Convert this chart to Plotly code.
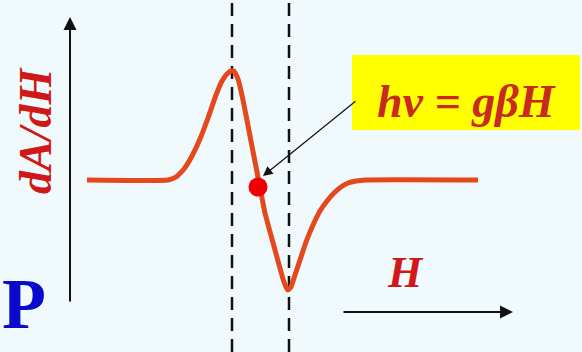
import plotly.graph_objects as go

# EPR first-derivative absorption line: field position vs dA/dH (baseline = 0)
field = [87, 168, 176, 184, 192, 200, 208, 216, 222, 227, 231, 234, 238, 243,
         250, 257, 265, 275, 283, 286, 288, 291, 295, 300, 306, 313, 320, 327,
         334, 341, 348, 356, 366, 478]
deriv = [0, 0, 3, 11, 24, 41, 62, 85, 99, 106, 109, 109, 101, 80,
         44, 8, -33, -70, -99, -107, -110, -107, -95, -80, -62, -45, -31, -21,
         -13, -7, -3, -1, 0, 0]

# positions of the derivative maximum and minimum (dashed markers)
extrema_field = [232, 289]

# resonance point where hv = g*beta*H (zero crossing)
resonance_field = [258]
resonance_deriv = [-7]

W, H = 582, 352
X_RANGE = [0, 582]
Y_RANGE = [-172, 180]

CURVE = "#e4481c"
RED_TXT = "#d01818"
BG = "#f0fafc"

fig = go.Figure()

for xv in extrema_field:
    fig.add_trace(go.Scatter(
        x=[xv, xv], y=Y_RANGE, mode="lines",
        line=dict(color="#111111", width=2.5, dash="13px,8px"),
        hoverinfo="skip", showlegend=False))

fig.add_trace(go.Scatter(
    x=field, y=deriv, mode="lines",
    line=dict(color=CURVE, width=5, shape="spline", smoothing=0.4),
    showlegend=False))

fig.add_trace(go.Scatter(
    x=resonance_field, y=resonance_deriv, mode="markers",
    marker=dict(color="#f00000", size=19, line=dict(width=0)),
    showlegend=False))

# axis arrows
fig.add_annotation(x=70, y=163, ax=70, ay=-123, xref="x", yref="y",
                   axref="x", ayref="y", text="", showarrow=True,
                   arrowhead=2, arrowsize=1.3, arrowwidth=2, arrowcolor="#111111")
fig.add_annotation(x=513, y=-132, ax=342, ay=-132, xref="x", yref="y",
                   axref="x", ayref="y", text="", showarrow=True,
                   arrowhead=2, arrowsize=1.3, arrowwidth=2, arrowcolor="#111111")

# yellow label box with pointer to the resonance point
fig.add_shape(type="rect", x0=352, x1=580, y0=50, y1=125, xref="x", yref="y",
              fillcolor="#ffff00", line=dict(width=0), layer="below")
fig.add_annotation(x=466, y=79, xref="x", yref="y", showarrow=False,
                   text="<b><i>hν = gβH</i></b>",
                   font=dict(family="Liberation Serif", size=46, color="#c82a1e"))
fig.add_annotation(x=263, y=4, ax=357, ay=80, xref="x", yref="y",
                   axref="x", ayref="y", text="", showarrow=True,
                   arrowhead=2, arrowsize=1.6, arrowwidth=1.2, arrowcolor="#111111")

# axis labels
fig.add_annotation(x=35, y=49, xref="x", yref="y", showarrow=False,
                   text="<b><i>dA/dH</i></b>", textangle=-90,
                   font=dict(family="Liberation Serif", size=46, color=RED_TXT))
fig.add_annotation(x=405, y=-92, xref="x", yref="y", showarrow=False,
                   text="<b><i>H</i></b>",
                   font=dict(family="Liberation Serif", size=44, color=RED_TXT))
fig.add_annotation(x=0, y=-124, xref="x", yref="y", showarrow=False,
                   xanchor="left", text="<b>P</b>",
                   font=dict(family="Liberation Serif", size=72, color="#0a0acc"))

fig.update_layout(
    width=W, height=H, margin=dict(l=0, r=0, t=0, b=0),
    paper_bgcolor=BG, plot_bgcolor=BG,
    xaxis=dict(range=X_RANGE, visible=False, fixedrange=True),
    yaxis=dict(range=Y_RANGE, visible=False, fixedrange=True),
    showlegend=False,
)

fig.write_html("out.html")
